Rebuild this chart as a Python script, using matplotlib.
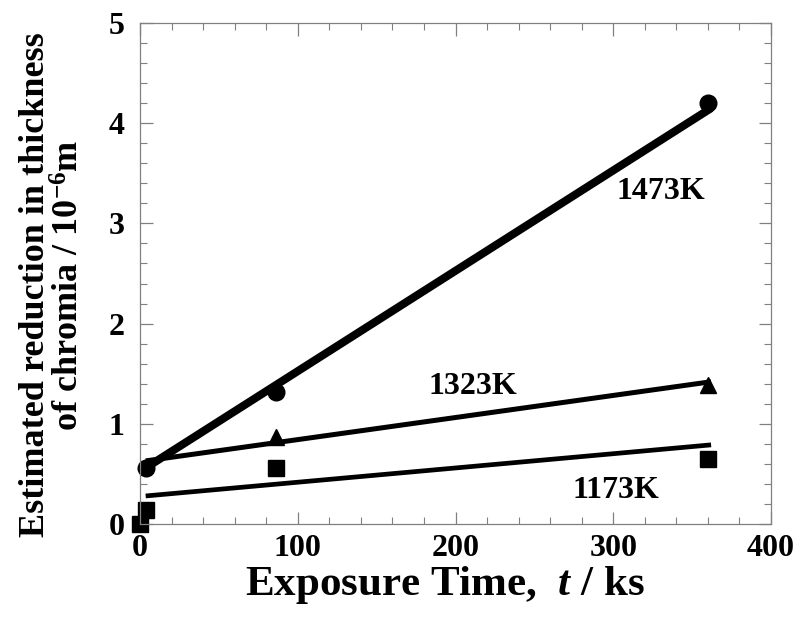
import matplotlib
matplotlib.use("Agg")
import matplotlib.pyplot as plt
from matplotlib.ticker import MultipleLocator

plt.rcParams["font.family"] = "Liberation Serif"
plt.rcParams["font.weight"] = "bold"
plt.rcParams["mathtext.fontset"] = "custom"
plt.rcParams["mathtext.rm"] = "Liberation Serif:bold"
plt.rcParams["mathtext.it"] = "Liberation Serif:italic:bold"

# measured points (exposure time in ks, thickness reduction in 1e-6 m)
t_1473 = [3.6, 86.4, 360]
d_1473 = [0.56, 1.32, 4.20]
t_1323 = [86.4, 360]
d_1323 = [0.87, 1.39]
t_1173 = [0.0, 3.6, 86.4, 360]
d_1173 = [0.0, 0.14, 0.56, 0.65]

# straight fitted lines (end points)
fit_t = [3.6, 362]
fit_1473 = [0.56, 4.15]
fit_1323 = [0.63, 1.42]
fit_1173 = [0.28, 0.79]

labels = ["1473K", "1323K", "1173K"]
label_pos = [(330, 3.32), (211, 1.37), (302, 0.33)]

fig = plt.figure(figsize=(7.99, 6.2), dpi=100)
ax = fig.add_axes([0.1752, 0.1548, 0.965 - 0.1752, 0.9629 - 0.1548])

ax.plot(fit_t, fit_1473, color="black", lw=5.8, solid_capstyle="butt")
ax.plot(fit_t, fit_1323, color="black", lw=3.6, solid_capstyle="butt")
ax.plot(fit_t, fit_1173, color="black", lw=3.4, solid_capstyle="butt")

ax.plot(t_1473, d_1473, "o", color="black", ms=12, clip_on=False)
ax.plot(t_1323, d_1323, "^", color="black", ms=11, clip_on=False)
ax.plot(t_1173, d_1173, "s", color="black", ms=11, clip_on=False)

for txt, (x, y) in zip(labels, label_pos):
    ax.text(x, y, txt, fontsize=23, fontweight="bold", ha="center", va="center")

ax.set_xlim(0, 400)
ax.set_ylim(0, 5)
ax.xaxis.set_major_locator(MultipleLocator(100))
ax.xaxis.set_minor_locator(MultipleLocator(20))
ax.yaxis.set_major_locator(MultipleLocator(1))
ax.yaxis.set_minor_locator(MultipleLocator(0.2))

for s in ax.spines.values():
    s.set_color("#808080")
    s.set_linewidth(0.9)
ax.tick_params(which="both", direction="in", top=True, right=True, color="#808080")
ax.tick_params(which="major", length=9, width=0.9, labelsize=23)
ax.tick_params(which="minor", length=5, width=0.8)
ax.tick_params(axis="y", which="major", pad=11)
ax.tick_params(axis="x", which="major", pad=7)

ax.set_xlabel("Exposure Time,  $t$ / ks", fontsize=31, fontweight="bold")
ax.set_ylabel("Estimated reduction in thickness\nof chromia / 10$^{\\mathregular{-6}}$m",
              fontsize=26, fontweight="bold", linespacing=1.05)
ax.xaxis.set_label_coords(0.483, -0.08)
ax.yaxis.set_label_coords(-0.085, 0.477)

fig.savefig("out.png", dpi=100)
